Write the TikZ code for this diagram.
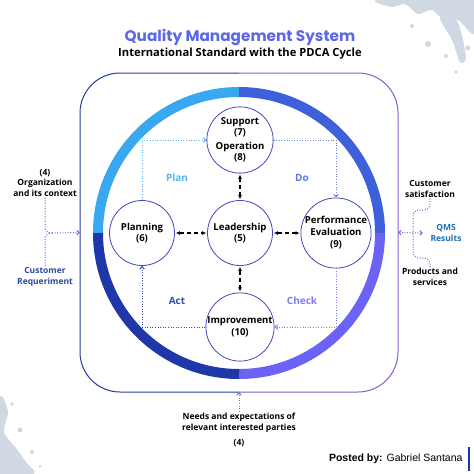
\documentclass[tikz,border=0pt]{standalone}
\usepackage{fontspec}
\setmainfont{Open Sans}
\newfontfamily\titlefont{Poppins}
\newfontfamily\postfont{Liberation Sans}
\usetikzlibrary{arrows.meta}
\usetikzlibrary{positioning}
\definecolor{mplan}{HTML}{38A8F0}
\definecolor{mdo}{HTML}{3E60DA}
\definecolor{mact}{HTML}{1F37A8}
\definecolor{mcheck}{HTML}{6B63F5}
\definecolor{mcircle}{HTML}{4348B8}
\definecolor{mtitle}{HTML}{5B68E6}
\definecolor{mside}{HTML}{7B6BD9}
\definecolor{mreq}{HTML}{2B4A9C}
\definecolor{mframel}{HTML}{2C3C9C}
\definecolor{mframer}{HTML}{8A5BD6}
\definecolor{msplash}{HTML}{D0D8E3}
\tikzset{stage/.style = {circle, draw=mcircle, line width=0.8pt, fill=white,
                         minimum size=65pt, inner sep=0pt, align=center,
                         font=\bfseries\fontsize{9.6}{11.5}\selectfont},
         sidetext/.style = {align=center, inner sep=1pt,
                            font=\bfseries\fontsize{8.5}{10.5}\selectfont},
         phase/.style = {font=\bfseries\fontsize{10}{12}\selectfont},
         cycleline/.style = {dash pattern=on 1pt off 1.6pt, line width=1pt,
                             -{Straight Barb[length=2.5pt, width=4.5pt]}},
         sideline/.style = {draw=mside, dash pattern=on 1pt off 1.6pt, line width=1pt},
         linkarrow/.style = {{Latex[length=4pt, width=4pt]}-{Latex[length=4pt, width=4pt]},
                             dash pattern=on 4pt off 3pt, line width=1.1pt},
         ring/.style = {line width=10pt, line cap=butt}}

\begin{document}
\begin{tikzpicture}[x=1pt, y=-1pt]
    \useasboundingbox (0, 0) rectangle (474, 474);
    \fill [white] (0, 0) rectangle (474, 474);

    % paint splashes in the corners
    \fill [msplash] plot [smooth cycle] coordinates {(378, 0) (392, 7) (405, 4) (418, 14) (432, 10) (446, 22) (458, 20) (474, 34) (474, 0)};
    \fill [msplash] plot [smooth cycle] coordinates {(440, 18) (452, 40) (460, 62) (466, 58) (462, 36) (456, 20)};
    \fill [msplash] (428, 44) circle (3) (446, 56) circle (2) (456, 72) circle (1.8) (468, 48) circle (2.5) (412, 26) circle (2);
    \fill [msplash] plot [smooth cycle] coordinates {(0, 398) (8, 412) (4, 432) (16, 448) (26, 462) (34, 474) (0, 474)};
    \fill [msplash] (20, 430) circle (2.5) (32, 452) circle (2) (12, 404) circle (1.8) (40, 466) circle (1.5);

    \node [font=\titlefont\bfseries\fontsize{15.3}{18}\selectfont, text=mtitle] (title) at (240, 37) {Quality Management System};
    \node [font=\bfseries\fontsize{11.2}{13}\selectfont] (subtitle) at (240, 54) {International Standard with the PDCA Cycle};

    % outer frame
    \node [minimum width=318pt, minimum height=319pt, inner sep=0pt, outer sep=0pt] (frame) at (239, 232.5) {};
    \draw [mframel, line width=1pt, rounded corners=40pt] (frame.north) -- (frame.north west) -- (frame.south west) -- (frame.south);
    \draw [mframer, line width=1pt, rounded corners=40pt] (frame.north) -- (frame.north east) -- (frame.south east) -- (frame.south);

    % PDCA ring
    \coordinate (hub) at (239, 233);
    \draw [ring, mplan] (hub) ++(180:141) arc [start angle=180, end angle=270, radius=141];
    \draw [ring, mdo] (hub) ++(270:141) arc [start angle=270, end angle=360, radius=141];
    \draw [ring, mcheck] (hub) ++(0:141) arc [start angle=0, end angle=90, radius=141];
    \draw [ring, mact] (hub) ++(90:141) arc [start angle=90, end angle=180, radius=141];

    \node [stage] (support) at (240, 140) {Support\\(7)\\[2pt]Operation\\(8)};
    \node [stage] (planning) at (142, 233) {Planning\\(6)};
    \node [stage] (leader) at (240, 233) {Leadership\\(5)};
    \node [stage] (perf) at (336, 233) {Performance\\Evaluation\\[1pt](9)};
    \node [stage] (improve) at (240, 327) {Improvement\\(10)};

    \draw [cycleline, draw=mplan!85!white] (planning.north) |- (support.west);
    \draw [cycleline, draw=mdo!80!white] (support.east) -| (perf.north);
    \draw [cycleline, draw=mcheck!85!white] (perf.south) |- (improve.east);
    \draw [cycleline, draw=mact!90!white] (improve.west) -| (planning.south);

    \node [phase, text=mplan!85!white] (plan) at (177, 178) {Plan};
    \node [phase, text=mdo!85!white] (do) at (302, 178) {Do};
    \node [phase, text=mact!90!white] (act) at (177, 301) {Act};
    \node [phase, text=mcheck!85!white] (check) at (302, 301) {Check};

    \draw [linkarrow, shorten <=1pt, shorten >=1pt] (support) -- (leader);
    \draw [linkarrow, shorten <=1pt, shorten >=1pt] (leader) -- (improve);
    \draw [linkarrow, shorten <=1pt, shorten >=1pt] (planning) -- (leader);
    \draw [linkarrow, shorten <=1pt, shorten >=1pt] (leader) -- (perf);

    % inputs and outputs
    \node [sidetext] (orgctx) at (45, 183) {(4)\\Organization\\and its context};
    \node [sidetext, text=mreq] (custreq) at (45, 277) {Customer\\Requeriment};
    \node [sidetext] (custsat) at (430, 189) {Customer\\satisfaction};
    \node [sidetext] (products) at (430, 277) {Products and\\services};
    \node [sidetext, text=mreq!80!cyan] (qms) at (446, 233) {QMS\\Results};
    \node [sidetext] (needs) at (239, 430) {Needs and expectations of\\relevant interested parties\\[5pt](4)};

    \coordinate (lbrace) at (52, 233);
    \coordinate (rbrace) at (423, 233);
    \draw [sideline, rounded corners=6pt] (orgctx.south) |- (lbrace);
    \draw [sideline, rounded corners=6pt] (lbrace) -| (custreq.north);
    \draw [sideline, -{Straight Barb[length=2.5pt, width=4.5pt]}] (lbrace) -- (frame.west);
    \draw [sideline, rounded corners=6pt] (custsat.south) |- (413, 210) -- (413, 258) -| (products.north);
    \draw [sideline, {Straight Barb[length=2.5pt, width=4.5pt]}-{Straight Barb[length=2.5pt, width=4.5pt]}] (frame.east) -- (rbrace);
    \draw [sideline, -{Straight Barb[length=2.5pt, width=4.5pt]}] (needs.north) -- (frame.south);

    \node [anchor=east, font=\postfont\fontsize{10.5}{12}\selectfont] (posted) at (466, 459) {\textbf{Posted by:} Gabriel Santana};
    \draw [mact, line width=1.5pt] (469, 447) -- (469, 471);
  \end{tikzpicture}
\end{document}
